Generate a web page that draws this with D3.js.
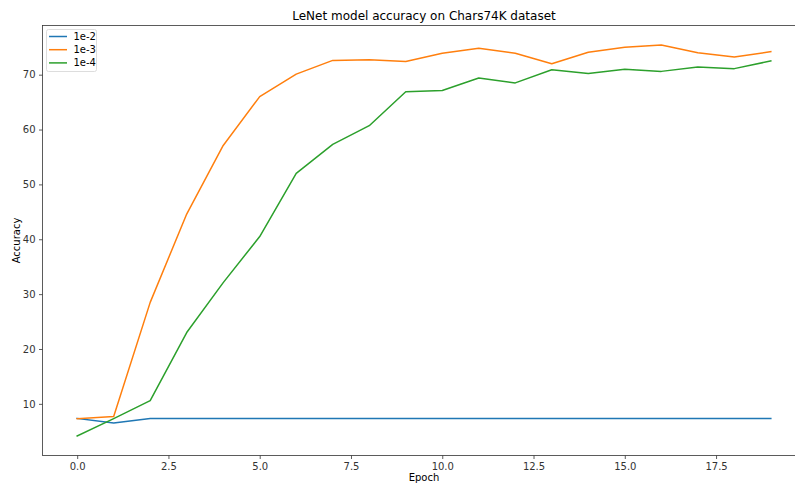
<!DOCTYPE html>
<html><head><meta charset="utf-8">
<script src="https://cdn.jsdelivr.net/npm/d3@7"></script>
<style>body{margin:0;background:#fff;overflow:hidden}svg{display:block}text{font-family:"DejaVu Sans",sans-serif}</style>
</head><body><svg id="c" width="795" height="483"></svg>
<script>
const epochs = d3.range(0, 20);
const seriesNames = ["1e-2", "1e-3", "1e-4"];
const seriesColors = ["#1f77b4", "#ff7f0e", "#2ca02c"];
const acc1e2 = [7.35, 6.5, 7.35, 7.35, 7.35, 7.35, 7.35, 7.35, 7.35, 7.35, 7.35, 7.35, 7.35, 7.35, 7.35, 7.35, 7.35, 7.35, 7.35, 7.35];
const acc1e3 = [7.3, 7.7, 28.5, 44.6, 57.1, 66.0, 70.1, 72.6, 72.7, 72.4, 73.9, 74.8, 73.9, 72.0, 74.1, 75.0, 75.4, 74.0, 73.2, 74.2];
const acc1e4 = [4.15, 7.3, 10.6, 23.0, 32.1, 40.5, 52.0, 57.3, 60.7, 66.9, 67.1, 69.4, 68.5, 70.9, 70.2, 71.0, 70.6, 71.4, 71.1, 72.5];
const xTicks = [0, 2.5, 5, 7.5, 10, 12.5, 15, 17.5];
const yTicks = [10, 20, 30, 40, 50, 60, 70];

const svg = d3.select("#c");
const L = 42.5, R = 805.5, T = 25.5, B = 455.5;
const all = acc1e2.concat(acc1e3, acc1e4);
const ymin = d3.min(all), ymax = d3.max(all), yp = (ymax - ymin) * 0.05;
const x = d3.scaleLinear().domain([-0.95, 19.95]).range([L, R]);
const y = d3.scaleLinear().domain([ymin - yp, ymax + yp]).range([B, T]);

const clip = svg.append("clipPath").attr("id", "pc").append("rect")
  .attr("x", L).attr("y", T).attr("width", R - L).attr("height", B - T);

const line = d3.line().x((d, i) => x(epochs[i])).y(d => y(d));
[acc1e2, acc1e3, acc1e4].forEach((s, k) => {
  svg.append("path").datum(s).attr("d", line).attr("fill", "none")
    .attr("stroke", seriesColors[k]).attr("stroke-width", 1.5)
    .attr("stroke-linejoin", "round").attr("stroke-linecap", "square")
    .attr("clip-path", "url(#pc)");
});

const xa = svg.append("g").attr("transform", `translate(0,${B})`)
  .call(d3.axisBottom(x).tickValues(xTicks).tickFormat(d3.format(".1f")).tickSizeOuter(0).tickSizeInner(3.5).tickPadding(3.5));
const ya = svg.append("g").attr("transform", `translate(${L},0)`)
  .call(d3.axisLeft(y).tickValues(yTicks).tickFormat(d3.format("d")).tickSizeOuter(0).tickSizeInner(3.5).tickPadding(3.5));
[xa, ya].forEach(a => {
  a.select(".domain").remove();
  a.selectAll("line").attr("stroke", "#333").attr("stroke-width", 0.8);
  a.selectAll("text").attr("font-size", 10).attr("fill", "#333").attr("font-family", "DejaVu Sans");
});
// spines
const sp = svg.append("g").attr("stroke", "#333").attr("stroke-width", 0.8).attr("fill", "none");
sp.append("rect").attr("x", L).attr("y", T).attr("width", R - L).attr("height", B - T);

svg.append("text").attr("x", (L + R) / 2).attr("y", 20).attr("text-anchor", "middle")
  .attr("font-size", 12).attr("fill", "#000").text("LeNet model accuracy on Chars74K dataset");
svg.append("text").attr("x", (L + R) / 2).attr("y", 481).attr("text-anchor", "middle")
  .attr("font-size", 10).attr("fill", "#000").text("Epoch");
svg.append("text").attr("transform", `translate(20,${(T + B) / 2}) rotate(-90)`).attr("text-anchor", "middle")
  .attr("font-size", 10).attr("fill", "#000").text("Accuracy");

// legend
const lg = svg.append("g");
lg.append("rect").attr("x", 46.5).attr("y", 29.5).attr("width", 50).attr("height", 42).attr("rx", 2)
  .attr("fill", "#fff").attr("fill-opacity", 0.8).attr("stroke", "#ddd").attr("stroke-width", 1);
seriesNames.forEach((n, i) => {
  const yy = 36.5 + i * 13.2;
  lg.append("line").attr("x1", 49).attr("x2", 67).attr("y1", yy).attr("y2", yy)
    .attr("stroke", seriesColors[i]).attr("stroke-width", 1.5);
  lg.append("text").attr("x", 73.5).attr("y", yy + 3.5).attr("font-size", 10).attr("fill", "#000").text(n);
});
</script></body></html>
